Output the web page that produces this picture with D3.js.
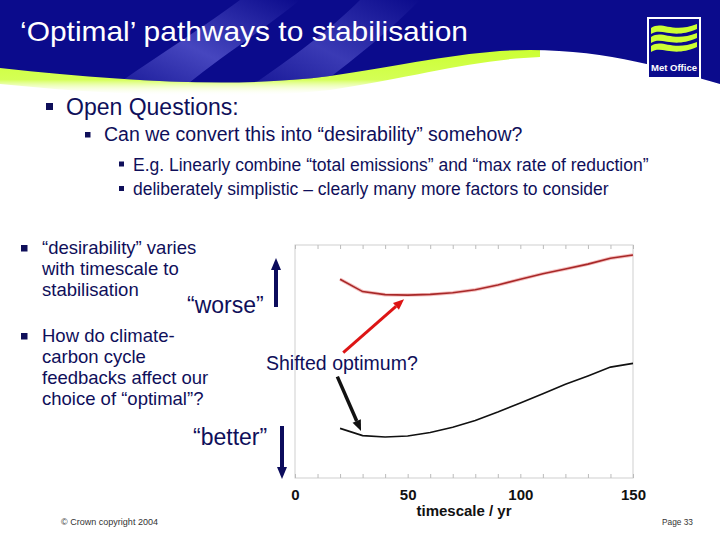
<!DOCTYPE html>
<html>
<head>
<meta charset="utf-8">
<script src="https://cdn.jsdelivr.net/npm/d3@7"></script>
<style>
  body { margin: 0; background: #fff; }
  svg { display: block; font-family: "Liberation Sans", Arial, sans-serif; }
</style>
</head>
<body>
<svg width="720" height="540"></svg>
<script>
// values (y is an unlabelled "desirability" score, 0 = better, 100 = worse)
timescale = [20, 30, 40, 50, 60, 70, 80, 90, 100, 110, 120, 130, 140, 150]
withFeedback = [85.3, 80.0, 78.7, 78.5, 78.8, 79.5, 80.8, 82.8, 85.3, 87.7, 89.7, 91.8, 94.3, 95.7]
noFeedback = [21.3, 18.2, 17.6, 18.0, 19.5, 21.8, 24.7, 28.3, 32.2, 36.2, 40.2, 43.8, 47.6, 49.2]
xTicks = [0, 50, 100, 150]
minorTicks = d3.range(0, 151, 10)

title = '‘Optimal’ pathways to stabilisation'
level1 = 'Open Questions:'
level2 = 'Can we convert this into “desirability” somehow?'
level3 = ['E.g. Linearly combine “total emissions” and “max rate of reduction”',
          'deliberately simplistic – clearly many more factors to consider']
leftBullets = [['“desirability” varies', 'with timescale to', 'stabilisation'],
               ['How do climate-', 'carbon cycle', 'feedbacks affect our', 'choice of “optimal”?']]

let svg = d3.select('svg'),
    navy = '#0f0f5a',
    blue = '#0b0b8c',
    lime = '#ccff33'

// ---- banner ----
let defs = svg.append('defs')
let g1 = defs.append('linearGradient').attr('id', 'streak').attr('x1', 0).attr('y1', 1).attr('x2', 1).attr('y2', 0)
g1.append('stop').attr('offset', 0).attr('stop-color', '#5a5ad0').attr('stop-opacity', 0.0)
g1.append('stop').attr('offset', 0.5).attr('stop-color', '#5a5ad0').attr('stop-opacity', 0.75)
g1.append('stop').attr('offset', 1).attr('stop-color', '#5a5ad0').attr('stop-opacity', 0.0)
let g2 = defs.append('linearGradient').attr('id', 'greenFade').attr('x1', 0).attr('y1', 0).attr('x2', 0).attr('y2', 1)
g2.append('stop').attr('offset', 0).attr('stop-color', lime)
g2.append('stop').attr('offset', 0.65).attr('stop-color', '#d4ff55')
g2.append('stop').attr('offset', 1).attr('stop-color', '#ffffff').attr('stop-opacity', 0)
defs.append('clipPath').attr('id', 'bannerClip').append('path')
    .attr('d', 'M0,0 H720 V84 C670,70 610,50 530,50 C470,50 410,64 330,76 C240,88 130,82 0,68 Z')

svg.append('path')
    .attr('d', 'M0,62 C130,76 240,84 330,72 C410,62 470,48 540,50 L540,57 C470,60 420,76 330,90 C240,100 120,96 0,84 Z')
    .attr('fill', 'url(#greenFade)')
let banner = svg.append('g').attr('clip-path', 'url(#bannerClip)')
banner.append('rect').attr('width', 720).attr('height', 100).attr('fill', blue)
banner.append('path').attr('d', 'M95,100 C150,60 200,30 240,0 L300,0 C250,40 200,70 170,100 Z').attr('fill', 'url(#streak)')
banner.append('path').attr('d', 'M230,100 C290,60 330,30 360,0 L420,0 C380,40 340,70 300,100 Z').attr('fill', 'url(#streak)').attr('opacity', 0.8)

svg.append('text').attr('x', 20).attr('y', 41)
    .attr('font-size', 28).attr('fill', '#fff')
    .attr('textLength', 448).attr('lengthAdjust', 'spacingAndGlyphs')
    .text(title)

// logo
let logo = svg.append('g')
logo.append('rect').attr('x', 648).attr('y', 18).attr('width', 52).attr('height', 60)
    .attr('fill', blue).attr('stroke', '#fff').attr('stroke-width', 2)
;[0, 9, 18].forEach(dy => {
    logo.append('path')
        .attr('d', `M651,${28 + dy} C662,${20 + dy} 672,${34 + dy} 697,${24 + dy} L697,${29 + dy} C672,${40 + dy} 662,${27 + dy} 651,${34 + dy} Z`)
        .attr('fill', lime)
})
logo.append('text').attr('x', 674).attr('y', 71).attr('text-anchor', 'middle')
    .attr('font-size', 9.5).attr('font-weight', 'bold').attr('fill', '#fff')
    .attr('textLength', 46).attr('lengthAdjust', 'spacingAndGlyphs').text('Met Office')

// ---- bullets ----
function bullet(x, y, s) {
    svg.append('rect').attr('x', x).attr('y', y).attr('width', s).attr('height', s).attr('fill', navy)
}
bullet(46, 103, 7)
svg.append('text').attr('x', 66).attr('y', 115).attr('font-size', 23).attr('fill', navy).text(level1)
bullet(85, 132, 5.5)
svg.append('text').attr('x', 104).attr('y', 141).attr('font-size', 19.5).attr('fill', navy).text(level2)
level3.forEach((t, i) => {
    bullet(119, 161.5 + i * 24.5, 5)
    svg.append('text').attr('x', 133).attr('y', 170.5 + i * 24.5).attr('font-size', 17.5).attr('fill', navy).text(t)
})

let leftY = [254, 342]
leftBullets.forEach((lines, j) => {
    bullet(21, leftY[j] - 9, 6.5)
    lines.forEach((t, i) => {
        svg.append('text').attr('x', 42).attr('y', leftY[j] + i * 21).attr('font-size', 18.5).attr('fill', navy).text(t)
    })
})

// ---- chart ----
let x = d3.scaleLinear().domain([0, 150]).range([295, 633])
let y = d3.scaleLinear().domain([0, 100]).range([478, 245])

let plot = svg.append('g')
plot.append('rect').attr('x', x(0)).attr('y', y(100)).attr('width', x(150) - x(0)).attr('height', y(0) - y(100))
    .attr('fill', 'none').attr('stroke', '#cfcfcf').attr('stroke-width', 1)
plot.append('g').attr('transform', `translate(0,${y(0)})`)
    .call(d3.axisBottom(x).tickValues(minorTicks).tickSize(-4).tickFormat(''))
    .call(g => g.select('.domain').remove())
    .call(g => g.selectAll('line').attr('stroke', '#bbb'))
plot.append('g').attr('transform', `translate(0,${y(100)})`)
    .call(d3.axisTop(x).tickValues(minorTicks).tickSize(-4).tickFormat(''))
    .call(g => g.select('.domain').remove())
    .call(g => g.selectAll('line').attr('stroke', '#bbb'))
plot.append('g').attr('transform', `translate(0,${y(0)})`)
    .call(d3.axisBottom(x).tickValues(xTicks).tickSize(0).tickPadding(11).tickFormat(d3.format('d')))
    .call(g => g.select('.domain').remove())
    .call(g => g.selectAll('text').attr('font-size', 15).attr('font-weight', 'bold').attr('fill', '#111')
        .attr('font-family', '"Liberation Sans", Arial, sans-serif'))

svg.append('text').attr('x', 464).attr('y', 516).attr('text-anchor', 'middle')
    .attr('font-size', 15).attr('font-weight', 'bold').attr('fill', '#111').text('timescale / yr')

let line = d3.line().x((d, i) => x(timescale[i])).y(d => y(d))
plot.append('path').attr('d', line(withFeedback)).attr('fill', 'none').attr('stroke', '#f5c0c0').attr('stroke-width', 3.5)
plot.append('path').attr('d', line(withFeedback)).attr('fill', 'none').attr('stroke', '#a82828').attr('stroke-width', 1.6)
plot.append('path').attr('d', line(noFeedback)).attr('fill', 'none').attr('stroke', '#111').attr('stroke-width', 1.6)

// ---- annotations ----
function arrow(x1, y1, x2, y2, color, w, head) {
    let a = Math.atan2(y2 - y1, x2 - x1), hl = head * 1.2, hw = head / 2
    let bx = x2 - hl * Math.cos(a), by = y2 - hl * Math.sin(a)
    svg.append('line').attr('x1', x1).attr('y1', y1).attr('x2', bx).attr('y2', by)
        .attr('stroke', color).attr('stroke-width', w)
    svg.append('path')
        .attr('d', `M${x2},${y2} L${bx - hw * Math.sin(a)},${by + hw * Math.cos(a)} L${bx + hw * Math.sin(a)},${by - hw * Math.cos(a)} Z`)
        .attr('fill', color)
}
arrow(x(21.4), y(53.8), x(48.4), y(76.7), '#dd1515', 3, 9)
arrow(x(18.8), y(43.5), x(29.3), y(20.2), '#111', 3.5, 9)
arrow(276, 307, 276, 258, '#0c0c5c', 4, 10)
arrow(282, 426, 282, 479, '#0c0c5c', 4, 10)

svg.append('text').attr('x', 187).attr('y', 313).attr('font-size', 23).attr('fill', navy).text('“worse”')
svg.append('text').attr('x', 193).attr('y', 445).attr('font-size', 23).attr('fill', navy).text('“better”')
svg.append('text').attr('x', 266).attr('y', 370).attr('font-size', 19.5).attr('fill', navy).text('Shifted optimum?')

// footer
svg.append('text').attr('x', 61).attr('y', 525).attr('font-size', 8.5).attr('fill', '#333')
    .attr('textLength', 97).attr('lengthAdjust', 'spacingAndGlyphs').text('© Crown copyright 2004')
svg.append('text').attr('x', 662).attr('y', 525).attr('font-size', 8.5).attr('fill', '#333')
    .attr('textLength', 31).attr('lengthAdjust', 'spacingAndGlyphs').text('Page 33')
</script>
</body>
</html>
